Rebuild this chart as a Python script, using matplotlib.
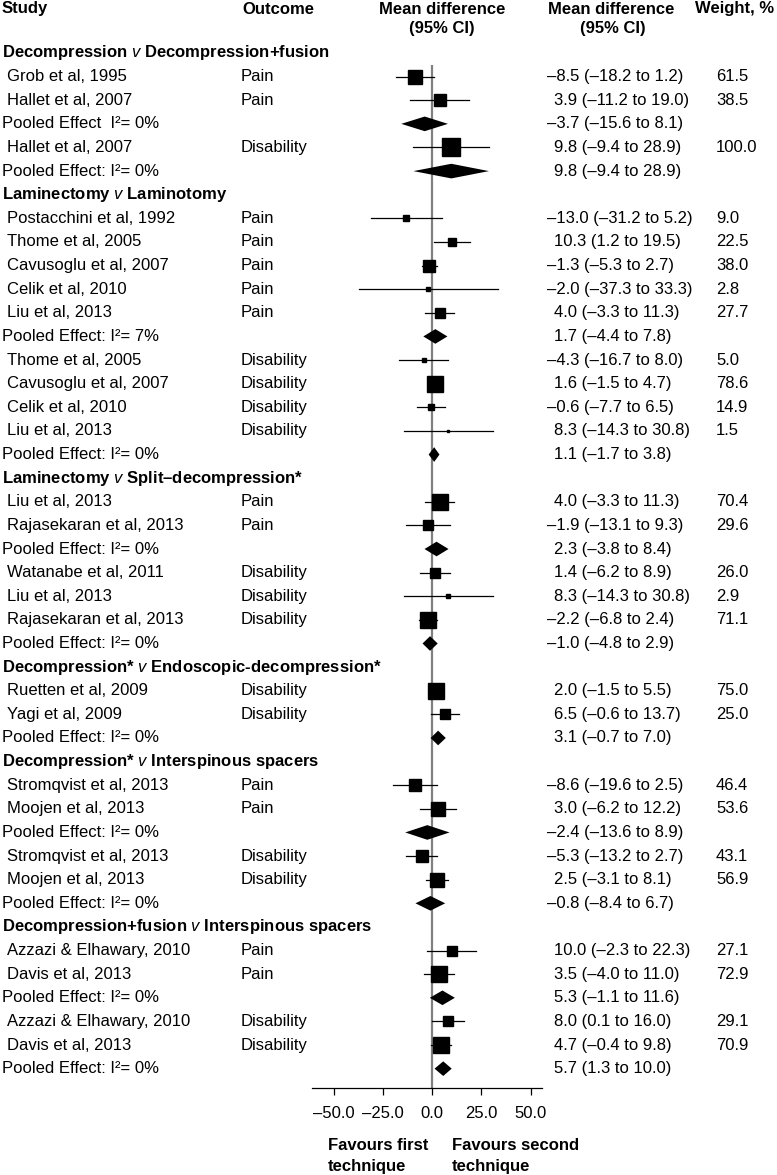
import numpy as np
import matplotlib
matplotlib.use('Agg')
import matplotlib.pyplot as plt
from matplotlib.transforms import blended_transform_factory

# rows of the forest plot, top to bottom: h = subgroup header, s = study, p = pooled
row_kind = ['h', 's', 's', 'p', 's', 'p',
            'h', 's', 's', 's', 's', 's', 'p', 's', 's', 's', 's', 'p',
            'h', 's', 's', 'p', 's', 's', 's', 'p',
            'h', 's', 's', 'p',
            'h', 's', 's', 'p', 's', 's', 'p',
            'h', 's', 's', 'p', 's', 's', 'p']
row_label = ['Decompression $\\mathit{v}$ Decompression+fusion',
             'Grob et al, 1995', 'Hallet et al, 2007', 'Pooled Effect  I\u00b2= 0%',
             'Hallet et al, 2007', 'Pooled Effect: I\u00b2= 0%',
             'Laminectomy $\\mathit{v}$ Laminotomy',
             'Postacchini et al, 1992', 'Thome et al, 2005', 'Cavusoglu et al, 2007',
             'Celik et al, 2010', 'Liu et al, 2013', 'Pooled Effect: I\u00b2= 7%',
             'Thome et al, 2005', 'Cavusoglu et al, 2007', 'Celik et al, 2010',
             'Liu et al, 2013', 'Pooled Effect: I\u00b2= 0%',
             'Laminectomy $\\mathit{v}$ Split\u2013decompression*',
             'Liu et al, 2013', 'Rajasekaran et al, 2013', 'Pooled Effect: I\u00b2= 0%',
             'Watanabe et al, 2011', 'Liu et al, 2013', 'Rajasekaran et al, 2013',
             'Pooled Effect: I\u00b2= 0%',
             'Decompression* $\\mathit{v}$ Endoscopic-decompression*',
             'Ruetten et al, 2009', 'Yagi et al, 2009', 'Pooled Effect: I\u00b2= 0%',
             'Decompression* $\\mathit{v}$ Interspinous spacers',
             'Stromqvist et al, 2013', 'Moojen et al, 2013', 'Pooled Effect: I\u00b2= 0%',
             'Stromqvist et al, 2013', 'Moojen et al, 2013', 'Pooled Effect: I\u00b2= 0%',
             'Decompression+fusion $\\mathit{v}$ Interspinous spacers',
             'Azzazi & Elhawary, 2010', 'Davis et al, 2013', 'Pooled Effect: I\u00b2= 0%',
             'Azzazi & Elhawary, 2010', 'Davis et al, 2013', 'Pooled Effect: I\u00b2= 0%']
row_outcome = ['', 'Pain', 'Pain', '', 'Disability', '',
               '', 'Pain', 'Pain', 'Pain', 'Pain', 'Pain', '',
               'Disability', 'Disability', 'Disability', 'Disability', '',
               '', 'Pain', 'Pain', '', 'Disability', 'Disability', 'Disability', '',
               '', 'Disability', 'Disability', '',
               '', 'Pain', 'Pain', '', 'Disability', 'Disability', '',
               '', 'Pain', 'Pain', '', 'Disability', 'Disability', '']
row_md = [None, -8.5, 3.9, -3.7, 9.8, 9.8,
          None, -13.0, 10.3, -1.3, -2.0, 4.0, 1.7, -4.3, 1.6, -0.6, 8.3, 1.1,
          None, 4.0, -1.9, 2.3, 1.4, 8.3, -2.2, -1.0,
          None, 2.0, 6.5, 3.1,
          None, -8.6, 3.0, -2.4, -5.3, 2.5, -0.8,
          None, 10.0, 3.5, 5.3, 8.0, 4.7, 5.7]
row_lo = [None, -18.2, -11.2, -15.6, -9.4, -9.4,
          None, -31.2, 1.2, -5.3, -37.3, -3.3, -4.4, -16.7, -1.5, -7.7, -14.3, -1.7,
          None, -3.3, -13.1, -3.8, -6.2, -14.3, -6.8, -4.8,
          None, -1.5, -0.6, -0.7,
          None, -19.6, -6.2, -13.6, -13.2, -3.1, -8.4,
          None, -2.3, -4.0, -1.1, 0.1, -0.4, 1.3]
row_hi = [None, 1.2, 19.0, 8.1, 28.9, 28.9,
          None, 5.2, 19.5, 2.7, 33.3, 11.3, 7.8, 8.0, 4.7, 6.5, 30.8, 3.8,
          None, 11.3, 9.3, 8.4, 8.9, 30.8, 2.4, 2.9,
          None, 5.5, 13.7, 7.0,
          None, 2.5, 12.2, 8.9, 2.7, 8.1, 6.7,
          None, 22.3, 11.0, 11.6, 16.0, 9.8, 10.0]
row_weight = [None, 61.5, 38.5, None, 100.0, None,
              None, 9.0, 22.5, 38.0, 2.8, 27.7, None, 5.0, 78.6, 14.9, 1.5, None,
              None, 70.4, 29.6, None, 26.0, 2.9, 71.1, None,
              None, 75.0, 25.0, None,
              None, 46.4, 53.6, None, 43.1, 56.9, None,
              None, 27.1, 72.9, None, 29.1, 70.9, None]

x_ticks = [-50, -25, 0, 25, 50]

W, H = 777, 1175
plt.rcParams['font.family'] = ['Liberation Sans', 'DejaVu Sans']
plt.rcParams['font.size'] = 12
plt.rcParams['mathtext.fontset'] = 'custom'
plt.rcParams['mathtext.rm'] = 'Liberation Sans'
plt.rcParams['mathtext.it'] = 'Liberation Sans:italic'
plt.rcParams['mathtext.bf'] = 'Liberation Sans:bold'

fig = plt.figure(figsize=(W / 100, H / 100), dpi=100)
ax_bottom = 1088
ax = fig.add_axes([312 / W, (H - ax_bottom) / H, 230 / W, ax_bottom / H])

row0, dy = 53.0, 23.62       # pixel centre of first row and row spacing
ax.set_xlim((312 - 432) / 1.97, (542 - 432) / 1.97)
ax.set_ylim((ax_bottom - row0) / dy, -row0 / dy)

for s in ['top', 'left', 'right']:
    ax.spines[s].set_visible(False)
ax.spines['bottom'].set_linewidth(0.9)
ax.set_yticks([])
ax.set_xticks(x_ticks)
ax.set_xticklabels([f'{t:.1f}'.replace('-', '\u2013') for t in x_ticks])
ax.tick_params(axis='x', length=5, width=0.9, pad=8, labelsize=12)

ax.vlines(0, 0.5, (ax_bottom - row0) / dy, color='#808080', lw=1.6, zorder=1)

trans = blended_transform_factory(fig.transFigure, ax.transData)

def fx(px):
    return px / W

for i, kind in enumerate(row_kind):
    if kind == 'h':
        ax.text(fx(2), i, row_label[i], transform=trans, ha='left', va='center',
                fontweight='bold', fontsize=12)
        continue
    ax.text(fx(7 if kind == 's' else 2), i, row_label[i], transform=trans,
            ha='left', va='center', fontsize=12)
    if row_outcome[i]:
        ax.text(fx(241), i, row_outcome[i], transform=trans, ha='left', va='center')
    m, lo, hi = row_md[i], row_lo[i], row_hi[i]
    txt = f'{m:.1f} ({lo:.1f} to {hi:.1f})'.replace('-', '\u2013')
    ax.text(fx(547 if m < 0 else 554), i, txt, transform=trans, ha='left', va='center')
    if kind == 's':
        ax.text(fx(716), i, f'{row_weight[i]:.1f}', transform=trans, ha='left', va='center')
        ax.plot([lo, hi], [i, i], color='k', lw=0.9, zorder=2)
        ax.plot(m, i, 's', color='k', ms=1.3 * np.sqrt(row_weight[i]), zorder=3)
    else:
        h = 0.31
        ax.fill([lo, m, hi, m], [i, i - h, i, i + h], color='k', lw=0, zorder=3)

# column headers
def hdr(px, py, s, ha='left'):
    fig.text(fx(px), 1 - py / H, s, ha=ha, va='center', fontweight='bold', fontsize=12)

hdr(2, 9, 'Study')
hdr(242, 9, 'Outcome')
hdr(442, 9, 'Mean difference', ha='center')
hdr(442, 28, '(95% CI)', ha='center')
hdr(611, 9, 'Mean difference', ha='center')
hdr(613, 28, '(95% CI)', ha='center')
hdr(695, 9, 'Weight, %')

hdr(328, 1146, 'Favours first')
hdr(328, 1166, 'technique')
hdr(452, 1146, 'Favours second')
hdr(452, 1166, 'technique')

fig.savefig('out.png', dpi=100)
plt.close(fig)
